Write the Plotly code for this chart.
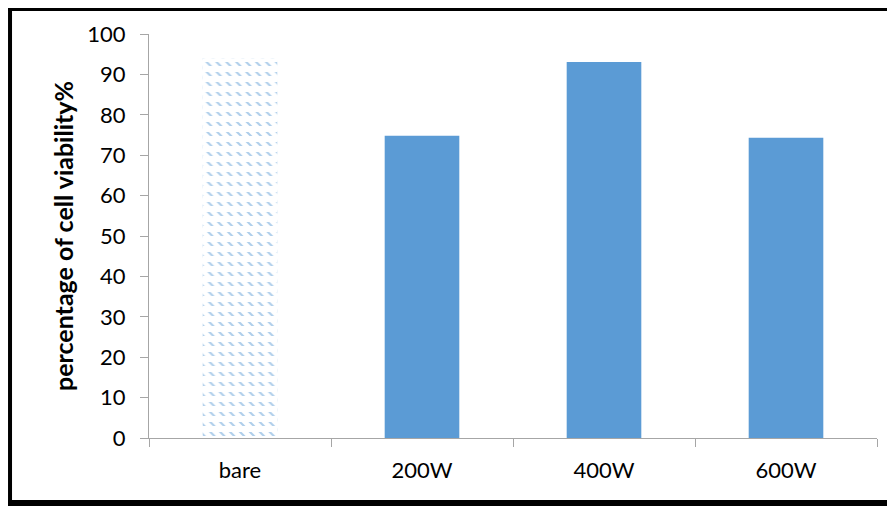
import plotly.graph_objects as go

categories = ["bare", "200W", "400W", "600W"]
values = [94.0, 74.8, 93.1, 74.3]
y_ticks = [0, 10, 20, 30, 40, 50, 60, 70, 80, 90, 100]

BLUE = "#5b9bd5"
FONT = "Lato, Open Sans, sans-serif"

fig = go.Figure()
# "bare": diagonal hatch, masked into rows by an overlaid white-stripe pattern
fig.add_trace(go.Bar(
    x=categories[:1], y=values[:1], width=0.41, uid="hatch",
    marker=dict(color="white", line=dict(width=0),
                pattern=dict(shape="\\", fgcolor=BLUE, bgcolor="white", size=7, solidity=0.3)),
    showlegend=False, hoverinfo="skip",
))
fig.add_trace(go.Bar(
    x=categories[:1], y=values[:1], width=0.41, uid="mask",
    marker=dict(color="rgba(255,255,255,0)", line=dict(width=0),
                pattern=dict(shape="-", fgcolor="white", fgopacity=1, fillmode="overlay", size=10, solidity=0.6)),
    showlegend=False,
))
fig.add_trace(go.Bar(
    x=categories[1:], y=values[1:], width=0.41, uid="solid",
    marker=dict(color=BLUE, line=dict(width=0)),
    showlegend=False,
))

border = dict(type="line", xref="paper", yref="paper", layer="above")
fig.update_layout(
    width=895, height=506,
    barmode="overlay",
    margin=dict(l=141, r=26, t=26, b=76),
    paper_bgcolor="white", plot_bgcolor="white",
    font=dict(family=FONT, size=22, color="#000"),
    xaxis=dict(
        categoryorder="array", categoryarray=categories,
        showline=True, linecolor="#a6a6a6", linewidth=1,
        ticks="outside", tickson="boundaries", ticklen=8, tickcolor="#a6a6a6",
        showgrid=False, ticklabelstandoff=13,
        tickfont=dict(size=22, family=FONT),
    ),
    yaxis=dict(
        range=[0, 100], tickvals=y_ticks,
        showline=True, linecolor="#a6a6a6", linewidth=1,
        ticks="outside", ticklen=8, tickcolor="#a6a6a6",
        showgrid=False, zeroline=False, ticklabelstandoff=10,
        tickfont=dict(size=22, family=FONT),
        title=dict(text="<b>percentage of cell viability%</b>", font=dict(size=25, family=FONT), standoff=6),
    ),
    shapes=[
        dict(border, x0=-0.1909, x1=-0.1909, y0=-0.3, y1=1.3, line=dict(color="black", width=4)),
        dict(border, x0=-0.3, x1=1.3, y0=1.0619, y1=1.0619, line=dict(color="black", width=4)),
        dict(border, x0=-0.3, x1=1.3, y0=-0.1609, y1=-0.1609, line=dict(color="black", width=6)),
    ],
)

fig.write_html("out.html")
